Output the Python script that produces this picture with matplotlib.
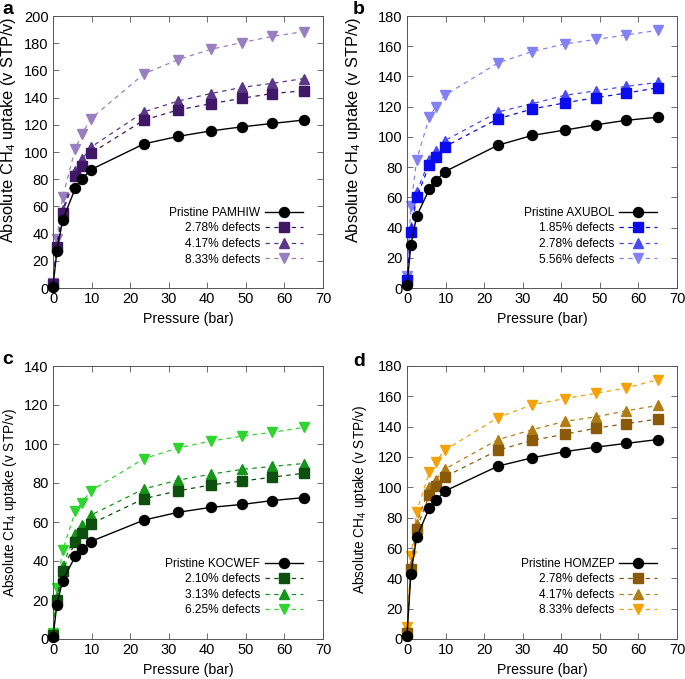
import numpy as np
import matplotlib
matplotlib.use("Agg")
import matplotlib.pyplot as plt

plt.rcParams['font.family'] = ['Liberation Sans', 'DejaVu Sans']
plt.rcParams['mathtext.fontset'] = 'custom'
plt.rcParams['mathtext.rm'] = 'Liberation Sans'
plt.rcParams['mathtext.it'] = 'Liberation Sans:italic'

# pressure points (bar), shared by all isotherms
pressure = [0.0, 1.0, 2.5, 5.8, 7.5, 9.8, 23.6, 32.5, 40.9, 49.0, 56.9, 65.0]

# panel a - PAMHIW
a_labels = ['Pristine PAMHIW', '2.78% defects', '4.17% defects', '8.33% defects']
a_pristine = [1, 27, 50, 73.5, 80, 87, 106, 111.5, 115.5, 118.5, 121, 123.5]
a_def1 = [3, 30, 55.5, 82, 90, 99, 123.5, 131, 135.5, 139.5, 143, 145]
a_def2 = [3, 31, 57, 86, 94.5, 103.5, 129.5, 137.5, 143, 147.5, 150.5, 154]
a_def3 = [4, 36, 67, 102.5, 113, 124.5, 157.5, 168, 175.5, 180.5, 185, 188.5]

# panel b - AXUBOL
b_labels = ['Pristine AXUBOL', '1.85% defects', '2.78% defects', '5.56% defects']
b_pristine = [2, 28.5, 47.5, 65.5, 71, 77, 94.5, 101, 104.5, 108, 111, 113]
b_def1 = [5, 37, 60, 81.5, 87, 93.5, 112, 118.5, 122.5, 126, 129, 132.5]
b_def2 = [6, 39.5, 63.5, 84.5, 90.5, 97.5, 116.5, 122, 127.5, 130.5, 133.5, 136]
b_def3 = [8, 54, 85, 113, 120, 127.5, 149, 156.5, 161.5, 164.5, 167.5, 170.5]

# panel c - KOCWEF
c_labels = ['Pristine KOCWEF', '2.10% defects', '3.13% defects', '6.25% defects']
c_pristine = [1, 17.5, 30, 42.5, 46, 50, 61, 65, 67.5, 69, 71, 72.5]
c_def1 = [2, 20, 35, 50, 54.5, 59, 72, 76, 79, 81, 83, 85]
c_def2 = [2.5, 21.5, 37.5, 54, 58.5, 63.5, 77, 81.5, 84.5, 87, 88.5, 90]
c_def3 = [3, 26, 45.5, 65.5, 70, 76, 92.5, 98, 101.5, 104, 106, 108.5]

# panel d - HOMZEP
d_labels = ['Pristine HOMZEP', '2.78% defects', '4.17% defects', '8.33% defects']
d_pristine = [2, 43, 67, 86.5, 91.5, 97.5, 114, 119.5, 123.5, 126.5, 129, 131.5]
d_def1 = [4, 46, 72.5, 95, 101, 107, 124.5, 131, 135, 139, 142, 145]
d_def2 = [5, 48, 76, 100, 105, 112, 131.5, 138, 143.5, 146.5, 150.5, 154]
d_def3 = [8, 54.5, 84, 110, 117, 124.5, 146, 154.5, 158.5, 162, 165.5, 171]

# tag, labels, data, colours, ymax, axes box (px), ylabel size, ylabel coords
panels = [
    ('a', a_labels, [a_pristine, a_def1, a_def2, a_def3],
     ['#3f1766', '#5b3788', '#9a7fc0'], 200, [53, 16, 270, 272],
     11.8, (-0.13, 0.58), (2, 10)),
    ('b', b_labels, [b_pristine, b_def1, b_def2, b_def3],
     ['#0a0aee', '#4a4af2', '#8282f6'], 180, [407, 16, 270, 272],
     11.8, (-0.163, 0.58), (353, 10)),
    ('c', c_labels, [c_pristine, c_def1, c_def2, c_def3],
     ['#0d4f0d', '#15961a', '#2fd42f'], 140, [53, 366, 270, 273],
     9.8, (-0.125, 0.5), (2, 360)),
    ('d', d_labels, [d_pristine, d_def1, d_def2, d_def3],
     ['#8a5a08', '#b07d14', '#f4a208'], 180, [407, 366, 270, 273],
     9.8, (-0.14, 0.51), (353, 361)),
]

W, H = 685, 679
fig = plt.figure(figsize=(W / 100, H / 100), dpi=100)

for tag, labels, series, colors, ymax, box, ylsize, ylpos, tagpos in panels:
    x0, y0, w, h = box
    ax = fig.add_axes([x0 / W, 1 - (y0 + h) / H, w / W, h / H])
    ax.plot(pressure, series[0], '-o', color='black', lw=1.0, ms=7.2,
            label=labels[0], zorder=5, clip_on=False)
    markers = ['s', '^', 'v']
    for i in range(3):
        ax.plot(pressure, series[i + 1], linestyle=(0, (3.5, 3.5)),
                marker=markers[i], color=colors[i], lw=0.9, ms=7.2,
                label=labels[i + 1], zorder=4 - i, clip_on=False)
    ax.set_xlim(0, 70)
    ax.set_ylim(0, ymax)
    ax.set_xticks(np.arange(0, 71, 10))
    ax.set_yticks(np.arange(0, ymax + 1, 20))
    ax.tick_params(direction='in', top=True, right=True, length=4,
                   width=0.6, labelsize=10.5, color='#555555', pad=3)
    for s in ax.spines.values():
        s.set_linewidth(0.7)
        s.set_color('#555555')
    ax.set_xlabel('Pressure (bar)', fontsize=10.2, labelpad=4)
    ax.set_ylabel('Absolute CH$_4$ uptake (v STP/v)', fontsize=ylsize)
    ax.yaxis.set_label_coords(*ylpos)
    ax.legend(loc='lower right', bbox_to_anchor=(0.945, 0.065), frameon=False,
              markerfirst=False, fontsize=8.6, handlelength=3.2,
              labelspacing=0.3, handletextpad=0.4, borderaxespad=0)
    fig.text(tagpos[0] / W, 1 - tagpos[1] / H, tag, fontsize=14,
             fontweight='bold', ha='left', va='center')

fig.savefig('out.png', dpi=100)
